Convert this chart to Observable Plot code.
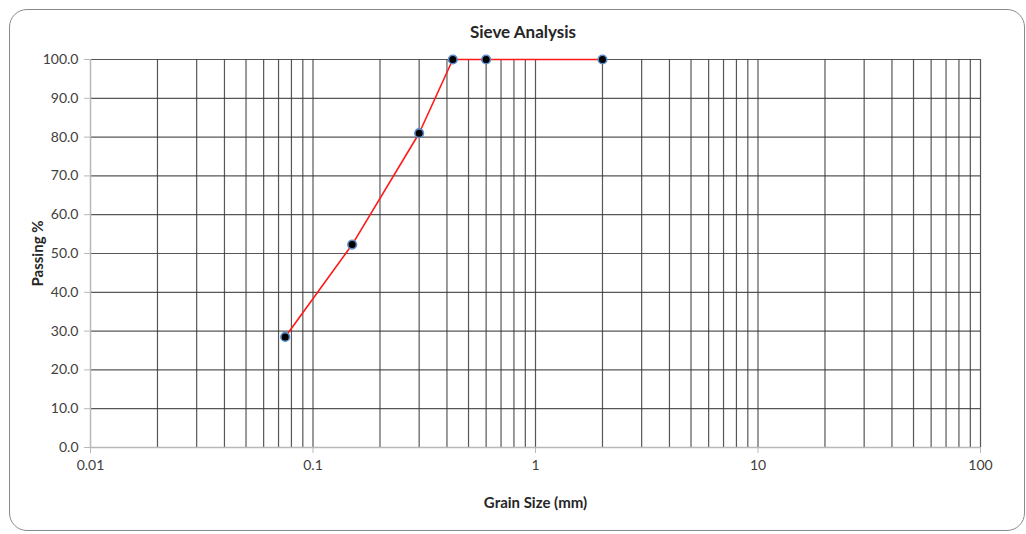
<!DOCTYPE html>
<html>
<head>
<meta charset="utf-8">
<script src="https://cdn.jsdelivr.net/npm/d3@7"></script>
<script src="https://cdn.jsdelivr.net/npm/@observablehq/plot@0.6"></script>
<style>
  html, body { margin: 0; padding: 0; background: #fff; }
  #wrap { position: relative; width: 1026px; height: 534px; overflow: hidden; font-family: Lato, "Open Sans", sans-serif; }
  #border { position: absolute; left: 9px; top: 9px; width: 1016px; height: 522px; border: 1.5px solid #8a8a8a; border-radius: 18px; box-sizing: border-box; }
  #title { position: absolute; left: 0; width: 1046px; top: 21px; text-align: center; font-weight: bold; font-size: 17px; color: #262626; }
  #chart { position: absolute; left: 0; top: 0; }
</style>
</head>
<body>
<div id="wrap">
  <div id="border"></div>
  <div id="chart"></div>
  <div id="title">Sieve Analysis</div>
</div>
<script>
const grainSize = [0.075, 0.15, 0.3, 0.425, 0.6, 2];
const passing = [28.5, 52.3, 81.0, 100.0, 100.0, 100.0];
const xTicks = [0.01, 0.1, 1, 10, 100];
const yTicks = [0, 10, 20, 30, 40, 50, 60, 70, 80, 90, 100];
const xGrid = [0.02, 0.03, 0.04, 0.05, 0.06, 0.07, 0.08, 0.09, 0.1,
               0.2, 0.3, 0.4, 0.5, 0.6, 0.7, 0.8, 0.9, 1,
               2, 3, 4, 5, 6, 7, 8, 9, 10,
               20, 30, 40, 50, 60, 70, 80, 90, 100];
const yGrid = [10, 20, 30, 40, 50, 60, 70, 80, 90, 100];

const data = grainSize.map((g, i) => ({size: g, pass: passing[i]}));

const plot = Plot.plot({
  width: 1026,
  height: 534,
  marginLeft: 90,
  marginRight: 46,
  marginTop: 59,
  marginBottom: 87,
  style: {fontFamily: "Lato, 'Open Sans', sans-serif", fontSize: "14px", color: "#404040", background: "transparent"},
  x: {type: "log", domain: [0.01, 100]},
  y: {domain: [0, 100]},
  marks: [
    Plot.ruleX(xGrid, {stroke: "#3a3a3a", strokeWidth: 1.2, strokeOpacity: 0.85}),
    Plot.ruleY(yGrid, {stroke: "#3a3a3a", strokeWidth: 1.2, strokeOpacity: 0.85}),
    Plot.ruleX([0.01], {stroke: "#b8b8b8", strokeWidth: 1.5}),
    Plot.ruleY([0], {stroke: "#b8b8b8", strokeWidth: 1.5}),
    Plot.axisX({ticks: xTicks, tickFormat: d => String(d), tickSize: 6, tickPadding: 7, stroke: "#b8b8b8", label: null, fill: "#404040", fontSize: 14}),
    Plot.axisY({ticks: yTicks, tickFormat: d => d.toFixed(1), tickSize: 6, tickPadding: 6, stroke: "#b8b8b8", label: null, fill: "#404040", fontSize: 14}),
    Plot.text(["Grain Size (mm)"], {frameAnchor: "bottom", dy: 60, fontWeight: "bold", fontSize: 15, fill: "#262626"}),
    Plot.text(["Passing %"], {frameAnchor: "left", textAnchor: "middle", dx: -52, rotate: -90, fontWeight: "bold", fontSize: 15, fill: "#262626"}),
    Plot.line(data, {x: "size", y: "pass", stroke: "#ff1a1a", strokeWidth: 1.6}),
    Plot.dot(data, {x: "size", y: "pass", r: 4.3, fill: "#000", stroke: "#5b8cc8", strokeWidth: 1.6})
  ]
});
document.getElementById("chart").appendChild(plot);
</script>
</body>
</html>
